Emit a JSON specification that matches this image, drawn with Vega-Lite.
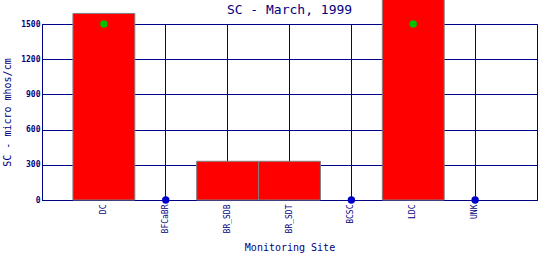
{
  "$schema": "https://vega.github.io/schema/vega-lite/v6.json",
  "width": 495,
  "height": 176,
  "autosize": {"type": "none"},
  "padding": {"left": 42, "top": 24, "right": 3, "bottom": 60},
  "background": "white",
  "config": {
    "view": {"stroke": "#000080", "strokeWidth": 1},
    "font": "DejaVu Sans Mono"
  },
  "title": {
    "text": "SC - March, 1999",
    "fontSize": 13,
    "fontWeight": "normal",
    "color": "#000080",
    "font": "DejaVu Sans Mono",
    "anchor": "middle",
    "frame": "group",
    "offset": -24
  },
  "datasets": {
    "bars": [
      {"site": "DC", "sc": 1590},
      {"site": "BR_SDB", "sc": 330},
      {"site": "BR_SDT", "sc": 330},
      {"site": "LDC", "sc": 1760}
    ],
    "points": [
      {"site": "DC", "sc": 1500, "kind": "standard"},
      {"site": "BFCaBR", "sc": 0, "kind": "none"},
      {"site": "BCSC", "sc": 0, "kind": "none"},
      {"site": "LDC", "sc": 1500, "kind": "standard"},
      {"site": "UNK", "sc": 0, "kind": "none"}
    ]
  },
  "encoding": {
    "x": {
      "field": "site",
      "type": "nominal",
      "sort": ["DC", "BFCaBR", "BR_SDB", "BR_SDT", "BCSC", "LDC", "UNK"],
      "scale": {
        "domain": ["DC", "BFCaBR", "BR_SDB", "BR_SDT", "BCSC", "LDC", "UNK"],
        "paddingInner": 0,
        "paddingOuter": 0.5
      },
      "axis": {
        "title": "Monitoring Site",
        "titleFont": "DejaVu Sans Mono",
        "titleFontSize": 10,
        "titleFontWeight": "normal",
        "titleColor": "#000080",
        "titlePadding": 10,
        "labelAngle": -90,
        "labelFont": "DejaVu Sans Mono",
        "labelFontSize": 8,
        "labelColor": "#000080",
        "labelPadding": 4,
        "ticks": false,
        "domainColor": "#000080",
        "grid": true,
        "gridColor": "#00008b",
        "gridOpacity": 1,
        "bandPosition": 0.5
      }
    },
    "y": {
      "field": "sc",
      "type": "quantitative",
      "scale": {"domain": [0, 1500], "nice": false, "clamp": false},
      "axis": {
        "title": "SC - micro mhos/cm",
        "titleFont": "DejaVu Sans Mono",
        "titleFontSize": 10,
        "titleFontWeight": "normal",
        "titleColor": "#000080",
        "titlePadding": 8,
        "values": [0, 300, 600, 900, 1200, 1500],
        "format": "d",
        "labelFont": "DejaVu Sans Mono",
        "labelFontSize": 8,
        "labelFontWeight": "bold",
        "labelColor": "#000080",
        "labelPadding": 2,
        "ticks": false,
        "domainColor": "#000080",
        "grid": true,
        "gridColor": "#00008b",
        "gridOpacity": 1
      }
    }
  },
  "layer": [
    {
      "data": {"name": "bars"},
      "mark": {"type": "bar", "color": "#ff0000", "stroke": "#808080", "strokeWidth": 1, "clip": false}
    },
    {
      "data": {"name": "points"},
      "mark": {"type": "point", "filled": true, "opacity": 1, "size": 55},
      "encoding": {
        "color": {
          "field": "kind",
          "type": "nominal",
          "scale": {"domain": ["standard", "none"], "range": ["#00c000", "#0000cc"]},
          "legend": null
        }
      }
    }
  ]
}
